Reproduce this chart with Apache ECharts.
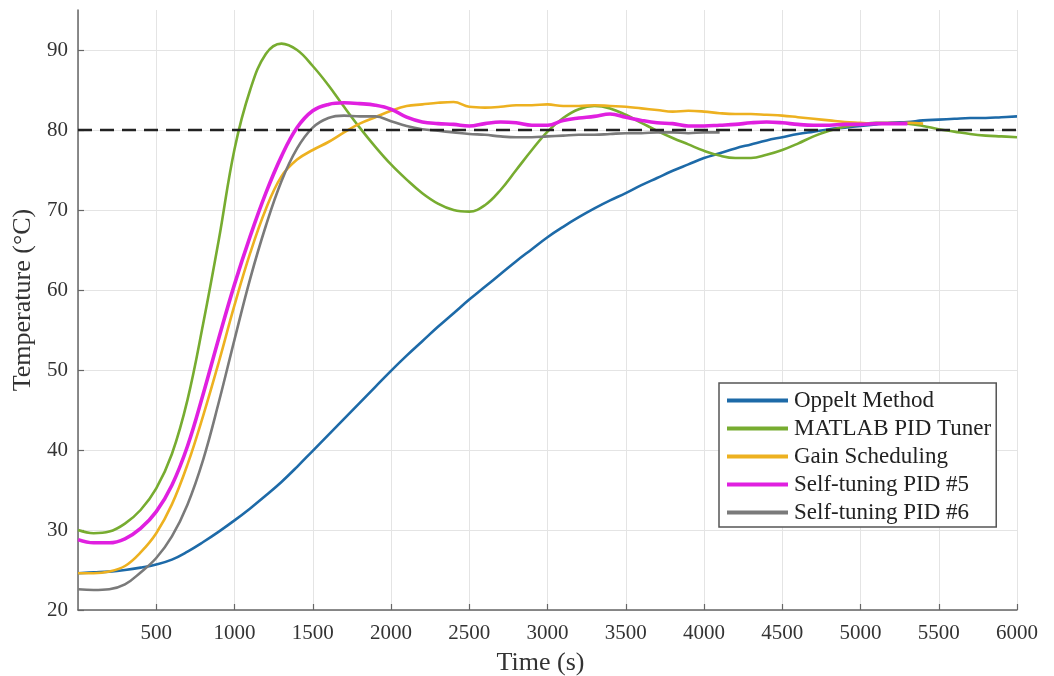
<!DOCTYPE html>
<html>
<head>
<meta charset="utf-8">
<script src="https://cdn.jsdelivr.net/npm/echarts@6/dist/echarts.min.js"></script>
<style>
html,body{margin:0;padding:0;background:#fff;}
#chart{width:1054px;height:676px;}
</style>
</head>
<body>
<div id="chart"></div>
<script>
// Time grid (s)
const time = [0,100,200,300,400,500,600,700,800,900,1000,1100,1200,1300,1400,1500,1600,1700,1800,1900,2000,
  2100,2200,2300,2400,2500,2600,2700,2800,2900,3000,3100,3200,3300,3400,3500,3600,3700,3800,3900,4000,
  4100,4200,4300,4400,4500,4600,4700,4800,4900,5000,5100,5200,5300,5400,5500,5600,5700,5800,5900,6000];

const seriesNames = ['Oppelt Method','MATLAB PID Tuner','Gain Scheduling','Self-tuning PID #5','Self-tuning PID #6'];

const oppelt = [24.6,24.7,24.8,25.0,25.3,25.7,26.3,27.3,28.5,29.8,31.2,32.7,34.3,36.0,37.9,39.9,41.9,43.9,45.9,47.9,49.9,
  51.8,53.6,55.4,57.1,58.8,60.4,62.0,63.6,65.1,66.6,67.9,69.1,70.2,71.2,72.1,73.1,74.0,74.9,75.7,76.5,
  77.1,77.7,78.2,78.7,79.1,79.5,79.8,80.1,80.3,80.5,80.7,80.9,81.0,81.2,81.3,81.4,81.5,81.5,81.6,81.7];

const matlabTuner = [30.0,29.6,29.8,30.8,32.5,35.2,39.5,46.3,55.8,66.3,77.6,85.0,89.5,90.8,90.0,88.0,85.6,82.9,80.3,77.9,75.7,
  73.8,72.1,70.8,70.0,69.8,70.6,72.5,75.0,77.5,79.8,81.5,82.6,83.0,82.7,81.9,80.9,79.9,79.0,78.2,77.4,
  76.8,76.5,76.5,76.9,77.5,78.3,79.2,79.9,80.4,80.7,80.9,80.9,80.8,80.5,80.1,79.8,79.5,79.3,79.2,79.1];

const gainScheduling = [24.6,24.6,24.8,25.5,27.2,29.6,33.2,38.2,44.3,51.0,58.1,64.6,70.1,74.2,76.3,77.5,78.5,79.7,80.8,81.6,82.4,
  83.0,83.2,83.4,83.5,82.9,82.8,82.9,83.1,83.1,83.2,83.0,83.0,83.1,83.0,82.9,82.7,82.5,82.3,82.4,82.3,
  82.1,82.0,82.0,81.9,81.8,81.6,81.4,81.2,81.0,80.9,80.8,80.8,80.9,80.8,null,null,null,null,null,null];

const selfTuning5 = [28.8,28.4,28.4,28.9,30.2,32.3,35.6,40.5,47.0,54.0,60.7,66.7,72.1,76.7,80.3,82.4,83.2,83.4,83.3,83.1,82.6,
  81.6,81.0,80.8,80.7,80.5,80.8,81.0,80.9,80.6,80.6,81.2,81.5,81.7,82.0,81.6,81.2,80.9,80.8,80.5,80.5,
  80.6,80.7,80.9,81.0,80.9,80.7,80.6,80.6,80.7,80.7,80.8,80.8,80.8,null,null,null,null,null,null,null];

const selfTuning6 = [22.6,22.5,22.6,23.2,24.7,26.5,29.2,33.2,38.8,46.0,53.8,61.4,68.0,73.6,77.7,80.3,81.5,81.8,81.7,81.7,81.1,
  80.5,80.1,79.9,79.7,79.5,79.4,79.2,79.1,79.1,79.2,79.3,79.4,79.4,79.5,79.6,79.6,79.7,79.7,79.6,79.7,
  79.7,null,null,null,null,null,null,null,null,null,null,null,null,null,null,null,null,null,null,null];

const setpointTime = [0, 6000];
const setpointTemp = [80, 80];

const xTicks = {min: 0, max: 6000, interval: 500};
const yTicks = {min: 20, max: 95, interval: 10};

const colors = ['#1d6aa8','#77AC30','#EDB120','#E020E0','#7a7a7a'];
const widths = [2.6,2.6,2.6,3.6,2.6];
const values = [oppelt, matlabTuner, gainScheduling, selfTuning5, selfTuning6];

function pairs(xs, ys){ return xs.map((x,i)=>[x, ys[i]]); }

const FONT = 'Liberation Serif';

const series = values.map((v,i)=>({
  name: seriesNames[i],
  type: 'line',
  data: pairs(time, v),
  showSymbol: false,
  symbol: 'none',
  smooth: 0.4,
  connectNulls: false,
  lineStyle: {color: colors[i], width: widths[i]},
  itemStyle: {color: colors[i]},
  z: 2 + i
}));
series.push({
  name: 'Setpoint',
  type: 'line',
  data: pairs(setpointTime, setpointTemp),
  showSymbol: false,
  symbol: 'none',
  lineStyle: {color: '#222', width: 2.4, type: [14, 8]},
  z: 10,
  silent: true
});

const chart = echarts.init(document.getElementById('chart'), null, {renderer: 'canvas'});
chart.setOption({
  animation: false,
  backgroundColor: '#fff',
  grid: {left: 78, right: 37, top: 10, bottom: 66, containLabel: false, outerBoundsMode: 'none'},
  legend: {
    data: seriesNames,
    orient: 'vertical',
    left: 719,
    top: 383,
    icon: 'rect',
    itemWidth: 61,
    itemHeight: 4,
    itemGap: 5,
    padding: [6, 5, 3, 8],
    backgroundColor: '#fff',
    borderColor: '#555',
    borderWidth: 1.5,
    textStyle: {fontFamily: FONT, fontSize: 23, color: '#222', padding: [0,0,0,1]}
  },
  xAxis: {
    type: 'value',
    min: xTicks.min, max: xTicks.max, interval: xTicks.interval,
    name: 'Time (s)',
    nameLocation: 'middle',
    nameGap: 40,
    nameTextStyle: {fontFamily: FONT, fontSize: 26, color: '#333', padding: [0, 14, 0, 0]},
    axisLine: {show: true, lineStyle: {color: '#666', width: 1.5}},
    axisTick: {show: true, inside: true, length: 6, lineStyle: {color: '#666', width: 1.2}},
    axisLabel: {showMinLabel: false, fontFamily: FONT, fontSize: 21, color: '#333', margin: 13,
      formatter: function (v) { return String(v); }},
    splitLine: {show: true, lineStyle: {color: '#e4e4e4', width: 1}}
  },
  yAxis: {
    type: 'value',
    min: yTicks.min, max: yTicks.max, interval: yTicks.interval,
    name: 'Temperature (°C)',
    nameLocation: 'middle',
    nameGap: 42,
    nameTextStyle: {fontFamily: FONT, fontSize: 26, color: '#333', padding: [0, 0, 0, 20]},
    axisLine: {show: true, lineStyle: {color: '#666', width: 1.5}},
    axisTick: {show: true, inside: true, length: 6, lineStyle: {color: '#666', width: 1.2}},
    axisLabel: {showMaxLabel: false, fontFamily: FONT, fontSize: 21, color: '#333', margin: 10},
    splitLine: {show: true, lineStyle: {color: ['#e4e4e4','#e4e4e4','#e4e4e4','#e4e4e4','#e4e4e4','#e4e4e4','#e4e4e4','#e4e4e4','rgba(0,0,0,0)'], width: 1}}
  },
  series: series
});
</script>
</body>
</html>
